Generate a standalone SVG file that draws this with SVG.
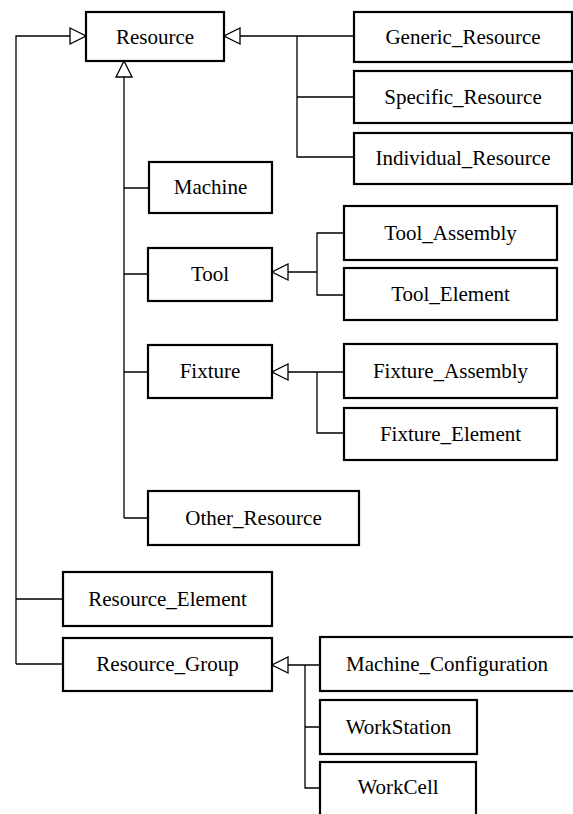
<svg xmlns="http://www.w3.org/2000/svg" width="573" height="814" viewBox="0 0 573 814">
<style>
.box{fill:#fff;stroke:#000;stroke-width:2.2}
.lbl{font-family:"Liberation Serif","Times New Roman",serif;font-size:21px;fill:#000;text-anchor:middle}
.c{fill:none;stroke:#000;stroke-width:1.3}
</style>
<defs>
<marker id="tri" viewBox="0 0 18 18" refX="17" refY="9" markerWidth="18" markerHeight="18" markerUnits="userSpaceOnUse" orient="auto">
<path d="M1,1 L17,9 L1,17 Z" fill="#fff" stroke="#000" stroke-width="1.3"/>
</marker>
</defs>
<rect width="573" height="814" fill="#fff"/>
<g id="connectors">
<path class="c" d="M16,664 L16,36 L86,36" marker-end="url(#tri)"/>
<path class="c" d="M16,599 L63,599 M16,664 L63,664"/>
<path class="c" d="M354,36 L224,36" marker-end="url(#tri)"/>
<path class="c" d="M297,36 L297,157 L354,157 M297,97 L354,97"/>
<path class="c" d="M124,518 L124,61" marker-end="url(#tri)"/>
<path class="c" d="M124,188 L149,188 M124,274 L148,274 M124,372 L148,372 M124,518 L148,518"/>
<path class="c" d="M317,272 L272,272" marker-end="url(#tri)"/>
<path class="c" d="M344,233 L317,233 L317,295 L344,295"/>
<path class="c" d="M344,372 L272,372" marker-end="url(#tri)"/>
<path class="c" d="M317,372 L317,433 L344,433"/>
<path class="c" d="M320,665 L272,665" marker-end="url(#tri)"/>
<path class="c" d="M305,665 L305,788 L320,788 M305,727 L320,727"/>
</g>
<g id="resource"><rect class="box" x="86" y="12" width="138" height="49"/><text class="lbl" x="155" y="44">Resource</text></g>
<g id="generic_resource"><rect class="box" x="354" y="12" width="218" height="50"/><text class="lbl" x="463" y="44">Generic_Resource</text></g>
<g id="specific_resource"><rect class="box" x="354" y="71" width="218" height="52"/><text class="lbl" x="463" y="104">Specific_Resource</text></g>
<g id="individual_resource"><rect class="box" x="354" y="133" width="218" height="51"/><text class="lbl" x="463" y="165">Individual_Resource</text></g>
<g id="machine"><rect class="box" x="149" y="162" width="123" height="51"/><text class="lbl" x="210.5" y="194">Machine</text></g>
<g id="tool"><rect class="box" x="148" y="248" width="124" height="53"/><text class="lbl" x="210" y="281">Tool</text></g>
<g id="tool_assembly"><rect class="box" x="344" y="206" width="213" height="54"/><text class="lbl" x="450.5" y="240">Tool_Assembly</text></g>
<g id="tool_element"><rect class="box" x="344" y="268" width="213" height="52"/><text class="lbl" x="450.5" y="301">Tool_Element</text></g>
<g id="fixture"><rect class="box" x="148" y="345" width="124" height="53"/><text class="lbl" x="210" y="378">Fixture</text></g>
<g id="fixture_assembly"><rect class="box" x="344" y="344" width="213" height="54"/><text class="lbl" x="450.5" y="378">Fixture_Assembly</text></g>
<g id="fixture_element"><rect class="box" x="344" y="408" width="213" height="52"/><text class="lbl" x="450.5" y="441">Fixture_Element</text></g>
<g id="other_resource"><rect class="box" x="148" y="491" width="211" height="54"/><text class="lbl" x="253.5" y="525">Other_Resource</text></g>
<g id="resource_element"><rect class="box" x="63" y="572" width="209" height="54"/><text class="lbl" x="167.5" y="606">Resource_Element</text></g>
<g id="resource_group"><rect class="box" x="63" y="638" width="209" height="53"/><text class="lbl" x="167.5" y="671">Resource_Group</text></g>
<g id="machine_configuration"><rect class="box" x="320" y="637" width="262" height="54"/><text class="lbl" x="447" y="671">Machine_Configuration</text></g>
<g id="workstation"><rect class="box" x="320" y="700" width="157" height="54"/><text class="lbl" x="398.5" y="734">WorkStation</text></g>
<g id="workcell"><rect class="box" x="320" y="762" width="156" height="60"/><text class="lbl" x="398" y="794">WorkCell</text></g>
</svg>
